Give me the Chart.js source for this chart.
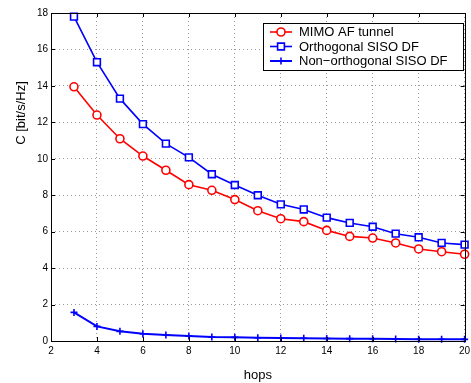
<!DOCTYPE html>
<html>
<head>
<meta charset="utf-8">
<script src="https://cdn.jsdelivr.net/npm/chart.js@4.4.1/dist/chart.umd.min.js"></script>
<style>
  html, body { margin: 0; padding: 0; background: #fff; }
  canvas { display: block; }
</style>
</head>
<body>
<canvas id="capacityChart" width="471" height="383"></canvas>
<script>
// values
var hops = [3, 4, 5, 6, 7, 8, 9, 10, 11, 12, 13, 14, 15, 16, 17, 18, 19, 20];
var mimoAF = [13.95, 12.4, 11.1, 10.15, 9.37, 8.58, 8.27, 7.76, 7.15, 6.71, 6.55, 6.07, 5.74, 5.65, 5.38, 5.05, 4.9, 4.76];
var orthSISO = [17.8, 15.3, 13.3, 11.9, 10.83, 10.08, 9.15, 8.56, 8.0, 7.5, 7.22, 6.77, 6.48, 6.27, 5.89, 5.69, 5.38, 5.29];
var nonOrthSISO = [1.57, 0.8, 0.53, 0.4, 0.33, 0.27, 0.22, 0.2, 0.18, 0.16, 0.15, 0.14, 0.13, 0.12, 0.11, 0.1, 0.1, 0.09];
var seriesNames = ['MIMO AF tunnel', 'Orthogonal SISO DF', 'Non\u2212orthogonal SISO DF'];
var xTicks = [2, 4, 6, 8, 10, 12, 14, 16, 18, 20];
var yTicks = [0, 2, 4, 6, 8, 10, 12, 14, 16, 18];

var FONT = '"Liberation Sans", Arial, Helvetica, sans-serif';

function toPoints(values) {
    return hops.map(function(h, i) { return { x: h, y: values[i] }; });
}

// box, inward tick marks, legend and y label like a matlab axes
var matlabAxes = {
    id: 'matlabAxes',
    afterDatasetsDraw: function(chart) {
        var ctx = chart.ctx;
        var a = chart.chartArea;
        var xs = chart.scales.x, ys = chart.scales.y;
        ctx.save();
        ctx.strokeStyle = '#000';
        ctx.lineWidth = 1;
        ctx.beginPath();
        xTicks.forEach(function(v) {
            var px = Math.round(xs.getPixelForValue(v)) + 0.5;
            ctx.moveTo(px, a.bottom); ctx.lineTo(px, a.bottom - 4);
            ctx.moveTo(px, a.top); ctx.lineTo(px, a.top + 4);
        });
        yTicks.forEach(function(v) {
            var py = Math.round(ys.getPixelForValue(v)) + 0.5;
            ctx.moveTo(a.left, py); ctx.lineTo(a.left + 4, py);
            ctx.moveTo(a.right, py); ctx.lineTo(a.right - 4, py);
        });
        ctx.stroke();
        ctx.strokeRect(Math.round(a.left) + 0.5, Math.round(a.top) + 0.5,
                       Math.round(a.right - a.left), Math.round(a.bottom - a.top));
        ctx.restore();
    },
    afterDraw: function(chart) {
        var ctx = chart.ctx;
        var a = chart.chartArea;
        ctx.save();

        // y axis label
        ctx.translate(21, 113);
        ctx.rotate(-Math.PI / 2);
        ctx.font = '13px ' + FONT;
        ctx.fillStyle = '#000';
        ctx.textAlign = 'center';
        ctx.textBaseline = 'middle';
        ctx.fillText('C [bit/s/Hz]', 0, 0);
        ctx.setTransform(1, 0, 0, 1, 0, 0);

        // legend
        var bx = 263.5, by = 23.5, bw = 200, bh = 47;
        ctx.fillStyle = '#fff';
        ctx.fillRect(bx, by, bw, bh);
        ctx.strokeStyle = '#000';
        ctx.lineWidth = 1;
        ctx.strokeRect(bx, by, bw, bh);
        ctx.font = '13px ' + FONT;
        ctx.textAlign = 'left';
        ctx.textBaseline = 'middle';
        chart.data.datasets.forEach(function(ds, i) {
            var y = 32 + i * 14.5;
            ctx.strokeStyle = ds.borderColor;
            ctx.lineWidth = ds.borderWidth;
            ctx.beginPath();
            ctx.moveTo(270, y); ctx.lineTo(292, y);
            ctx.stroke();
            ctx.fillStyle = ds.pointBackgroundColor;
            ctx.lineWidth = ds.pointBorderWidth;
            Chart.helpers.drawPoint(ctx, {
                pointStyle: ds.pointStyle, rotation: 0,
                radius: ds.pointRadius, borderWidth: ds.pointBorderWidth
            }, 281, y);
            ctx.fillStyle = '#000';
            ctx.fillText(ds.label, 299, y + 0.5);
        });
        ctx.restore();
    }
};

var ctx = document.getElementById('capacityChart').getContext('2d');
var capacityChart = new Chart(ctx, {
    type: 'line',
    data: {
        datasets: [{
            label: seriesNames[0],
            data: toPoints(mimoAF),
            borderColor: '#ff0000',
            borderWidth: 1.6,
            pointStyle: 'circle',
            pointRadius: 4,
            pointBorderWidth: 1.6,
            pointBackgroundColor: '#fff',
            pointBorderColor: '#ff0000',
            clip: false
        }, {
            label: seriesNames[1],
            data: toPoints(orthSISO),
            borderColor: '#0000ff',
            borderWidth: 1.6,
            pointStyle: 'rect',
            pointRadius: 4.8,
            pointBorderWidth: 1.6,
            pointBackgroundColor: '#fff',
            pointBorderColor: '#0000ff',
            clip: false
        }, {
            label: seriesNames[2],
            data: toPoints(nonOrthSISO),
            borderColor: '#0000ff',
            borderWidth: 2,
            pointStyle: 'cross',
            pointRadius: 3.5,
            pointBorderWidth: 1.6,
            pointBackgroundColor: '#0000ff',
            pointBorderColor: '#0000ff',
            clip: false
        }]
    },
    options: {
        responsive: false,
        animation: false,
        devicePixelRatio: 1,
        layout: { padding: { top: 13, right: 3, left: 0, bottom: 0 } },
        plugins: {
            legend: { display: false },
            tooltip: { enabled: false }
        },
        elements: { line: { tension: 0 } },
        scales: {
            x: {
                type: 'linear',
                min: 2,
                max: 20,
                afterBuildTicks: function(scale) {
                    scale.ticks = xTicks.map(function(v) { return { value: v }; });
                },
                afterFit: function(scale) {
                    scale.height = 42;
                    scale.paddingLeft = 0;
                    scale.paddingRight = 0;
                },
                ticks: {
                    color: '#000',
                    font: { family: FONT, size: 10 },
                    padding: 4,
                    autoSkip: false,
                    maxRotation: 0
                },
                grid: { color: '#9a9a9a', lineWidth: 1, drawTicks: false },
                border: { display: false, dash: [1, 3] },
                title: {
                    display: true,
                    text: 'hops',
                    color: '#000',
                    font: { family: FONT, size: 13 },
                    padding: { top: 0, bottom: 0 }
                }
            },
            y: {
                min: 0,
                max: 18,
                afterBuildTicks: function(scale) {
                    scale.ticks = yTicks.map(function(v) { return { value: v }; });
                },
                afterFit: function(scale) {
                    scale.width = 51;
                    scale.paddingTop = 0;
                    scale.paddingBottom = 0;
                },
                ticks: {
                    color: '#000',
                    font: { family: FONT, size: 10 },
                    padding: 3
                },
                grid: { color: '#9a9a9a', lineWidth: 1, drawTicks: false },
                border: { display: false, dash: [1, 3] }
            }
        }
    },
    plugins: [matlabAxes]
});
</script>
</body>
</html>
